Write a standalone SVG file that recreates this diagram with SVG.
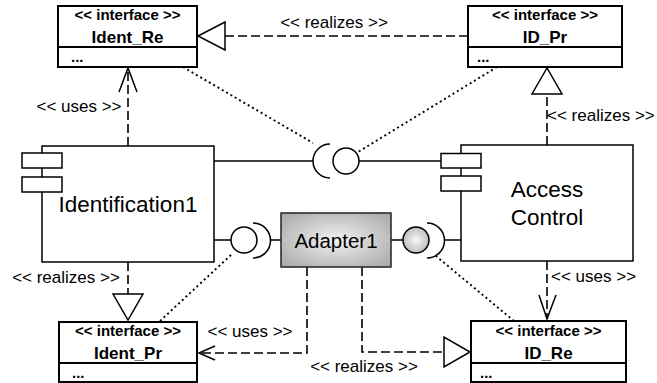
<svg xmlns="http://www.w3.org/2000/svg" width="657" height="383" viewBox="0 0 657 383">
<defs>
<style>
.ibox{fill:#fff;stroke:#000;stroke-width:2}
.comp{fill:#fff;stroke:#000;stroke-width:1.5}
.ln{fill:none;stroke:#000;stroke-width:1.5}
.dash{fill:none;stroke:#000;stroke-width:1.6;stroke-dasharray:9,4}
.dot{fill:none;stroke:#000;stroke-width:1.9;stroke-dasharray:2,3}
.hd{font-family:"Liberation Sans",Arial,sans-serif;font-weight:bold;font-size:15px;text-anchor:middle}
.nm{font-family:"Liberation Sans",Arial,sans-serif;font-weight:bold;font-size:17px;text-anchor:middle}
.dt{font-family:"Liberation Sans",Arial,sans-serif;font-weight:bold;font-size:15px}
.lb{font-family:"Liberation Sans",Arial,sans-serif;font-size:17px}
.cn{font-family:"Liberation Sans",Arial,sans-serif;font-size:22.5px;text-anchor:middle}
.tri{fill:#fff;stroke:#000;stroke-width:1.5}
</style>
<radialGradient id="adg" cx="50%" cy="50%" r="75%">
<stop offset="0" stop-color="#f2f2f2"/>
<stop offset="1" stop-color="#a0a0a0"/>
</radialGradient>
<radialGradient id="ballg" cx="50%" cy="50%" r="55%">
<stop offset="0" stop-color="#f8f8f8"/>
<stop offset="1" stop-color="#b8b8b8"/>
</radialGradient>
</defs>

<g id="connectors">
<line class="dash" x1="468" y1="36" x2="225" y2="36"/>
<polygon class="tri" points="198,36 225,22 225,50"/>
<text class="lb" x="334" y="28" text-anchor="middle">&lt;&lt; realizes &gt;&gt;</text>
<line class="dash" x1="128" y1="146" x2="128" y2="69"/>
<polyline class="ln" points="119,92 128,68 137,92"/>
<text class="lb" x="79" y="112" text-anchor="middle">&lt;&lt; uses &gt;&gt;</text>
<line class="dash" x1="547" y1="145" x2="547" y2="94"/>
<polygon class="tri" points="547,68 532,94 562,94"/>
<text class="lb" x="547" y="121">&lt;&lt; realizes &gt;&gt;</text>
<line class="dash" x1="128" y1="262" x2="128" y2="294"/>
<polygon class="tri" points="113,294 143,294 128,320"/>
<text class="lb" x="66" y="283" text-anchor="middle">&lt;&lt; realizes &gt;&gt;</text>
<line class="dash" x1="547" y1="261" x2="547" y2="319"/>
<polyline class="ln" points="539,295 547,319 556,295"/>
<text class="lb" x="551" y="282">&lt;&lt; uses &gt;&gt;</text>
<polyline class="dash" points="307,267 307,353 200,353"/>
<polyline class="ln" points="215,346 199,353 215,360"/>
<text class="lb" x="250" y="337" text-anchor="middle">&lt;&lt; uses &gt;&gt;</text>
<polyline class="dash" points="362,267 362,352 444,352"/>
<polygon class="tri" points="444,337 444,367 470,352"/>
<text class="lb" x="364" y="372" text-anchor="middle">&lt;&lt; realizes &gt;&gt;</text>
<line class="dot" x1="183" y1="67" x2="313" y2="143"/>
<line class="dot" x1="497" y1="67" x2="358" y2="152"/>
<line class="dot" x1="160" y1="321" x2="232" y2="254"/>
<line class="dot" x1="514" y1="321" x2="436" y2="256"/>
<line class="ln" x1="214" y1="161" x2="313" y2="161"/>
<path class="ln" d="M330,144 A17,17 0 0 0 330,178"/>
<circle cx="346" cy="161" r="13" fill="#fff" stroke="#000" stroke-width="1.5"/>
<line class="ln" x1="359" y1="161" x2="441" y2="161"/>
<line class="ln" x1="214" y1="240" x2="231" y2="240"/>
<circle cx="244" cy="240" r="13" fill="#fff" stroke="#000" stroke-width="1.5"/>
<path class="ln" d="M253,223 A17.5,17.5 0 0 1 253,258"/>
<line class="ln" x1="271" y1="240" x2="281" y2="240"/>
<line class="ln" x1="391" y1="240" x2="403" y2="240"/>
<circle cx="416" cy="240" r="13" fill="url(#ballg)" stroke="#000" stroke-width="1.5"/>
<path class="ln" d="M427,223 A17.5,17.5 0 0 1 427,258"/>
<line class="ln" x1="445" y1="240" x2="461" y2="240"/>
</g>

<g id="Ident_Re">
<rect class="ibox" x="58" y="6" width="139" height="61"/>
<line class="ibox" x1="58" y1="47" x2="197" y2="47"/>
<text class="hd" x="127.5" y="20">&lt;&lt; interface &gt;&gt;</text>
<text class="nm" x="127.5" y="43">Ident_Re</text>
<text class="dt" x="71" y="62">...</text>
</g>

<g id="ID_Pr">
<rect class="ibox" x="468" y="6" width="154" height="61"/>
<line class="ibox" x1="468" y1="47" x2="622" y2="47"/>
<text class="hd" x="545" y="20">&lt;&lt; interface &gt;&gt;</text>
<text class="nm" x="545" y="43">ID_Pr</text>
<text class="dt" x="477" y="62">...</text>
</g>

<g id="Ident_Pr">
<rect class="ibox" x="59" y="322" width="138" height="60"/>
<line class="ibox" x1="59" y1="363" x2="197" y2="363"/>
<text class="hd" x="128" y="336">&lt;&lt; interface &gt;&gt;</text>
<text class="nm" x="128" y="359">Ident_Pr</text>
<text class="dt" x="72" y="378">...</text>
</g>

<g id="ID_Re">
<rect class="ibox" x="471" y="321" width="155" height="61"/>
<line class="ibox" x1="471" y1="363" x2="626" y2="363"/>
<text class="hd" x="548.5" y="336">&lt;&lt; interface &gt;&gt;</text>
<text class="nm" x="548.5" y="359">ID_Re</text>
<text class="dt" x="480" y="378">...</text>
</g>

<g id="Identification1">
<rect class="comp" x="42" y="146" width="172" height="116"/>
<rect class="comp" x="22" y="153" width="40" height="15"/>
<rect class="comp" x="22" y="177" width="40" height="15"/>
<text class="cn" x="128" y="212">Identification1</text>
</g>

<g id="AccessControl">
<rect class="comp" x="461" y="145" width="172" height="116"/>
<rect class="comp" x="441" y="153.5" width="40" height="14.5"/>
<rect class="comp" x="441" y="176" width="40" height="15"/>
<text class="cn" x="547" y="197">Access</text>
<text class="cn" x="547" y="225">Control</text>
</g>

<g id="Adapter1">
<rect x="281" y="213" width="110" height="54" fill="url(#adg)" stroke="#222" stroke-width="1.5"/>
<text x="336" y="248" font-family="'Liberation Sans',Arial,sans-serif" font-size="20.5" text-anchor="middle">Adapter1</text>
</g>
</svg>
